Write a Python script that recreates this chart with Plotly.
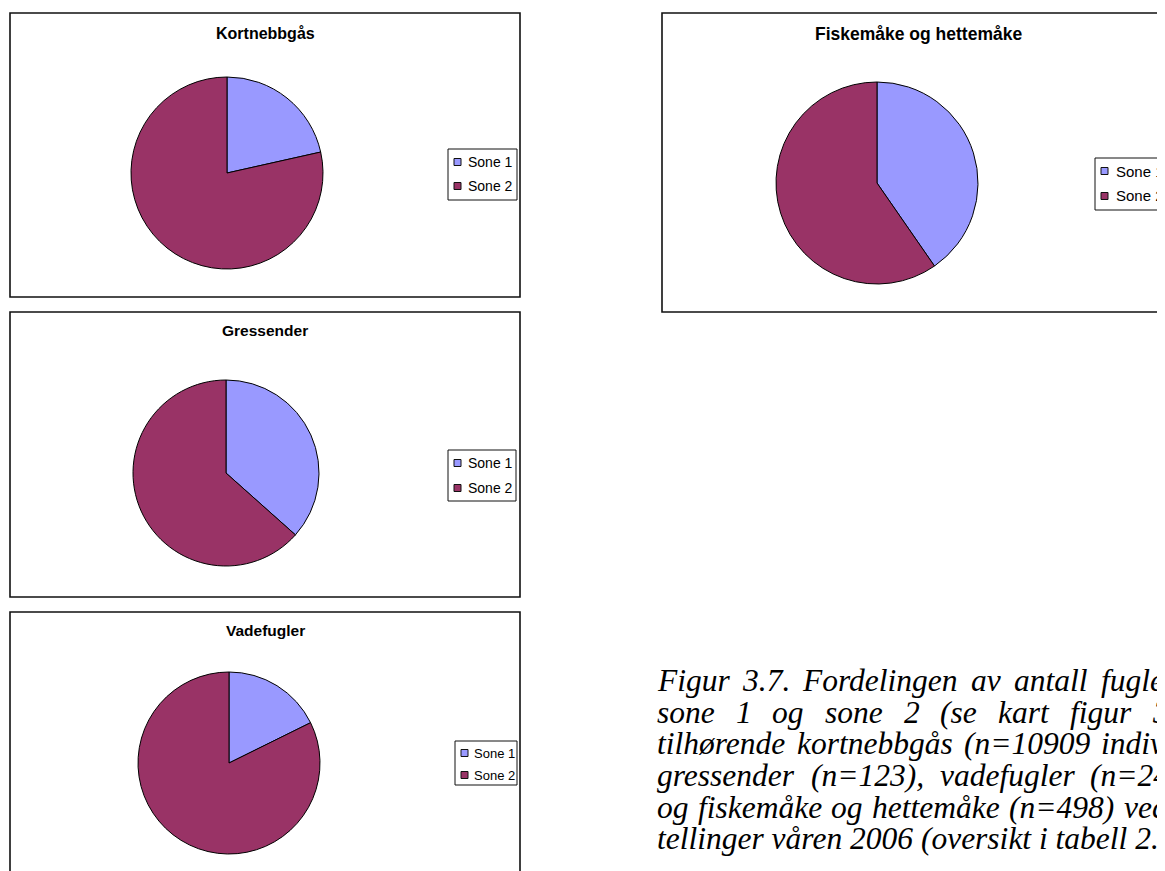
import plotly.graph_objects as go

# page is rendered with an 8px body margin; figure sized to fit the 1165x871 window
OFF = 8
W, H = 1165 - OFF, 871 - OFF

# ---------------- data ----------------
labels = ["Sone 1", "Sone 2"]
titles = ["Kortnebbgås", "Gressender", "Vadefugler", "Fiskemåke og hettemåke"]
sone1 = [2345, 45, 43, 201]
sone2 = [8564, 78, 200, 297]
colors = ["#9999FF", "#993366"]

caption_lines = [
    ["Figur", "3.7.", "Fordelingen", "av", "antall", "fugle"],
    ["sone", "1", "og", "sone", "2", "(se", "kart", "figur", "3"],
    ["tilhørende", "kortnebbgås", "(n=10909", "indiv"],
    ["gressender", "(n=123),", "vadefugler", "(n=24"],
    ["og", "fiskemåke", "og", "hettemåke", "(n=498)", "ved"],
    ["tellinger våren 2006 (oversikt i tabell 2."],
]

# ---------------- layout (page pixels) ----------------
boxes = [(10, 13, 520, 297), (10, 312, 520, 597), (10, 612, 520, 900), (662, 13, 1200, 312)]
pie_centers = [(227, 173), (226, 473), (229, 763), (877, 183)]
pie_radii = [96, 93, 91, 101]
title_pos = [(265, 33), (265, 331), (265, 630), (918, 34)]
title_sizes = [16, 15.5, 15.5, 17.5]
legend_boxes = [(448, 149, 517, 200), (448, 450, 516, 501), (455, 741, 517, 785), (1095, 158, 1190, 210)]
legend_rows = [(162, 186), (463, 488), (753, 775), (171, 196)]
legend_fonts = [14, 14, 13, 15]
legend_text_dx = [18, 18, 17, 19]

CAP_LEFT = 655
CAP_FONT = 31.5
line_centers = [680, 712, 743, 775, 807, 838]
# x where the last (partly visible) word of each justified line starts
last_word_x = [1099, 1150, 1099, 1088, 1122, None]

# Times-style italic advance widths (1/1000 em), used only to space the justified words
ADV = {" ": 250, "(": 333, ")": 333, ",": 250, ".": 250, "=": 675,
       "a": 500, "b": 500, "d": 500, "e": 444, "f": 278, "g": 500, "h": 500,
       "i": 278, "k": 444, "l": 278, "m": 722, "n": 500, "o": 500, "r": 389,
       "s": 389, "t": 278, "u": 500, "v": 444, "å": 500, "ø": 500, "F": 611}


def adv(word):
    return sum(ADV.get(c, 500) for c in word) / 1000 * CAP_FONT


def fx(x):
    return (x - OFF) / W


def fy(y):
    return 1 - (y - OFF) / H


fig = go.Figure()
shapes = []
annotations = []

for i in range(4):
    cx, cy = pie_centers[i]
    r = pie_radii[i]
    fig.add_trace(go.Pie(
        labels=labels,
        values=[sone1[i], sone2[i]],
        sort=False,
        direction="clockwise",
        rotation=0,
        marker=dict(colors=colors, line=dict(color="black", width=1)),
        textinfo="none",
        showlegend=False,
        name=titles[i],
        domain=dict(x=[fx(cx - r), fx(cx + r)], y=[fy(cy + r), fy(cy - r)]),
    ))

    x0, y0, x1, y1 = boxes[i]
    shapes.append(dict(type="rect", xref="paper", yref="paper",
                       x0=fx(x0), x1=fx(x1), y0=fy(y1), y1=fy(y0),
                       line=dict(color="#111111", width=1.6), fillcolor="rgba(0,0,0,0)", layer="below"))

    tx, ty = title_pos[i]
    annotations.append(dict(text=titles[i], x=fx(tx), y=fy(ty), xref="paper", yref="paper",
                            xanchor="center", yanchor="middle", showarrow=False,
                            font=dict(family="Liberation Sans, Arial, sans-serif", size=title_sizes[i],
                                      color="black", weight="bold")))

    lx0, ly0, lx1, ly1 = legend_boxes[i]
    shapes.append(dict(type="rect", xref="paper", yref="paper",
                       x0=fx(lx0), x1=fx(lx1), y0=fy(ly1), y1=fy(ly0),
                       line=dict(color="#111111", width=1), fillcolor="white"))
    for k, lab in enumerate(labels):
        ry = legend_rows[i][k]
        s = 7
        shapes.append(dict(type="rect", xref="paper", yref="paper",
                           x0=fx(lx0 + 6), x1=fx(lx0 + 6 + s), y0=fy(ry + s / 2), y1=fy(ry - s / 2),
                           line=dict(color="#111111", width=1), fillcolor=colors[k]))
        annotations.append(dict(text=lab, x=fx(lx0 + legend_text_dx[i]), y=fy(ry), xref="paper", yref="paper",
                                xanchor="left", yanchor="middle", showarrow=False,
                                font=dict(family="Liberation Sans, Arial, sans-serif",
                                          size=legend_fonts[i], color="black")))

for li, words in enumerate(caption_lines):
    xs = [CAP_LEFT]
    if len(words) > 1:
        total = sum(adv(w) for w in words[:-1])
        gap = (last_word_x[li] - CAP_LEFT - total) / (len(words) - 1)
        for w in words[:-1]:
            xs.append(xs[-1] + adv(w) + gap)
    for wi, w in enumerate(words):
        annotations.append(dict(text=w, x=fx(xs[wi]), y=fy(line_centers[li]), xref="paper", yref="paper",
                                xanchor="left", yanchor="middle", showarrow=False,
                                font=dict(family="Liberation Serif, Times New Roman, serif",
                                          size=CAP_FONT, color="black", style="italic")))

fig.update_layout(
    width=W, height=H,
    margin=dict(l=0, r=0, t=0, b=0),
    paper_bgcolor="white", plot_bgcolor="white",
    shapes=shapes, annotations=annotations,
    showlegend=False,
)

fig.write_html("out.html")
